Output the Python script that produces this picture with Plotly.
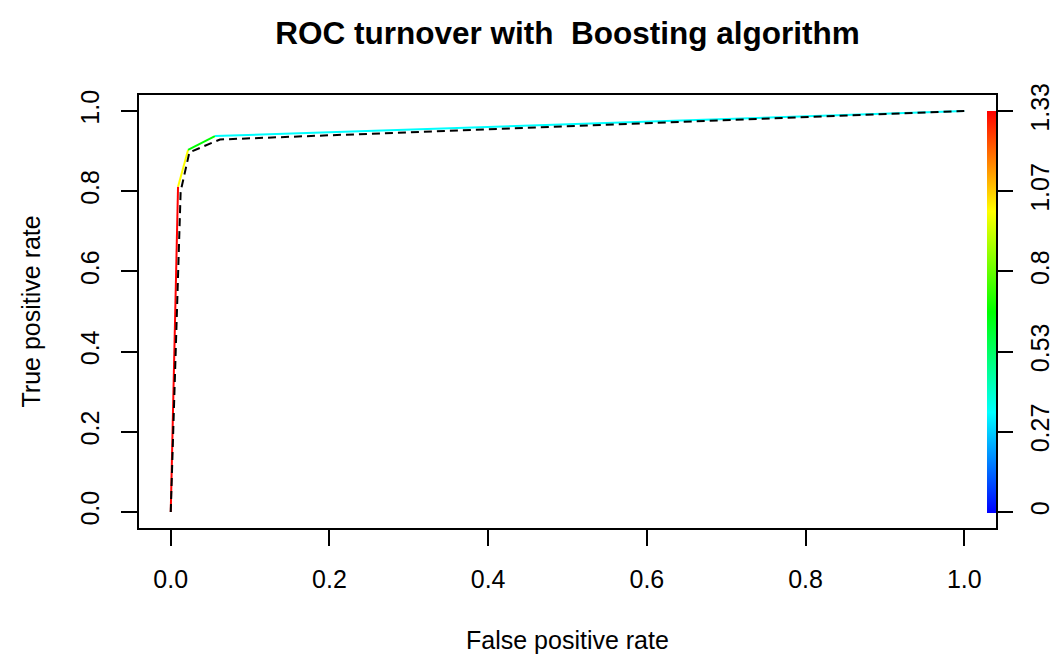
import numpy as np
import plotly.graph_objects as go

# ---- data ----
fpr_colored = [0.0, 0.0092, 0.0218, 0.0557, 1.0]
tpr_colored = [0.0, 0.811, 0.903, 0.9375, 1.0]
cutoffs = [1.3333, 1.0, 0.6667, 0.3333, 0.0]

fpr_dashed = [0.0, 0.0125, 0.0235, 0.062, 1.0]
tpr_dashed = [0.0, 0.80, 0.897, 0.929, 1.0]

x_tick_vals = [0.0, 0.2, 0.4, 0.6, 0.8, 1.0]
x_tick_text = ["0.0", "0.2", "0.4", "0.6", "0.8", "1.0"]
y_tick_vals = [0.0, 0.2, 0.4, 0.6, 0.8, 1.0]
y_tick_text = ["0.0", "0.2", "0.4", "0.6", "0.8", "1.0"]
cb_tick_text = ["0", "0.27", "0.53", "0.8", "1.07", "1.33"]

title_text = "ROC turnover with\u00a0 Boosting algorithm"
x_title = "False positive rate"
y_title = "True positive rate"

FONT = "Liberation Sans, Arial, Helvetica, sans-serif"
rainbow = [[0.0, "#0000FF"], [0.25, "#00FFFF"], [0.5, "#00FF00"],
           [0.75, "#FFFF00"], [1.0, "#FF0000"]]

cmin, cmax = min(cutoffs), max(cutoffs)
cb_tick_vals = list(np.linspace(cmin, cmax, len(cb_tick_text)))


def color_at(v):
    t = (v - cmin) / (cmax - cmin)
    for (p0, c0), (p1, c1) in zip(rainbow[:-1], rainbow[1:]):
        if p0 <= t <= p1:
            f = (t - p0) / (p1 - p0) if p1 > p0 else 0
            a = [int(c0[i:i + 2], 16) for i in (1, 3, 5)]
            b = [int(c1[i:i + 2], 16) for i in (1, 3, 5)]
            r = [round(a[k] + (b[k] - a[k]) * f) for k in range(3)]
            return "rgb(%d,%d,%d)" % tuple(r)
    return rainbow[-1][1]


fig = go.Figure()

# colorized ROC curve: one segment per cutoff step
for i in range(len(fpr_colored) - 1):
    fig.add_trace(go.Scatter(
        x=fpr_colored[i:i + 2], y=tpr_colored[i:i + 2], mode="lines",
        line=dict(color=color_at(cutoffs[i]), width=2),
        showlegend=False, hoverinfo="skip"))

# dashed ROC curve
fig.add_trace(go.Scatter(
    x=fpr_dashed, y=tpr_dashed, mode="lines",
    line=dict(color="black", width=2, dash="8px,5px"),
    showlegend=False, hoverinfo="skip"))

# carrier for the colour strip (cutoff scale on right axis)
fig.add_trace(go.Scatter(
    x=fpr_colored, y=cutoffs, yaxis="y2", mode="markers",
    marker=dict(size=0.1, opacity=0, color=cutoffs, colorscale=rainbow,
                cmin=cmin, cmax=cmax, showscale=True,
                colorbar=dict(thickness=9, thicknessmode="pixels",
                              len=402, lenmode="pixels",
                              x=(986.5 - 139) / 857, xanchor="left",
                              y=(528 - 513) / 433, yanchor="bottom",
                              xpad=0, ypad=0, outlinewidth=0,
                              ticks="", showticklabels=False)),
    showlegend=False, hoverinfo="skip"))

pad = 0.04
tick_font = dict(family=FONT, size=25, color="black")

fig.update_layout(
    width=1056, height=656,
    margin=dict(l=139, r=60, t=95, b=128, autoexpand=False),
    paper_bgcolor="white", plot_bgcolor="white",
    title=dict(text="<b>" + title_text + "</b>", x=0.5, xref="paper",
               xanchor="center", y=1 - 33 / 656, yref="container",
               yanchor="middle",
               font=dict(family=FONT, size=31.5, color="black")),
    xaxis=dict(range=[-pad, 1 + pad], tickvals=x_tick_vals, ticktext=x_tick_text,
               ticks="outside", ticklen=16, tickwidth=1.5, tickcolor="black",
               showline=True, linewidth=1.5, linecolor="black", mirror=True,
               showgrid=False, zeroline=False, tickfont=tick_font,
               ticklabelstandoff=12),
    yaxis=dict(range=[-pad, 1 + pad], tickvals=y_tick_vals, ticktext=y_tick_text,
               ticks="outside", ticklen=16, tickwidth=1.5, tickcolor="black",
               showline=True, linewidth=1.5, linecolor="black", mirror=True,
               showgrid=False, zeroline=False, tickfont=tick_font,
               tickangle=-90, ticklabelstandoff=12),
    yaxis2=dict(overlaying="y", side="right",
                range=[cmin - pad * (cmax - cmin), cmax + pad * (cmax - cmin)],
                tickvals=cb_tick_vals, ticktext=cb_tick_text,
                ticks="outside", ticklen=16, tickwidth=1.5, tickcolor="black",
                showline=False, showgrid=False, zeroline=False,
                tickfont=tick_font, tickangle=-90, ticklabelstandoff=6),
    annotations=[
        dict(text=x_title, xref="paper", yref="paper", x=0.5,
             y=-(640 - 528) / 433, xanchor="center", yanchor="middle",
             showarrow=False, font=dict(family=FONT, size=25, color="black")),
        dict(text=y_title, xref="paper", yref="paper",
             x=-(139 - 30) / 857, y=0.5, xanchor="center", yanchor="middle",
             textangle=-90, showarrow=False,
             font=dict(family=FONT, size=25, color="black")),
    ],
)

fig.write_html("out.html")
